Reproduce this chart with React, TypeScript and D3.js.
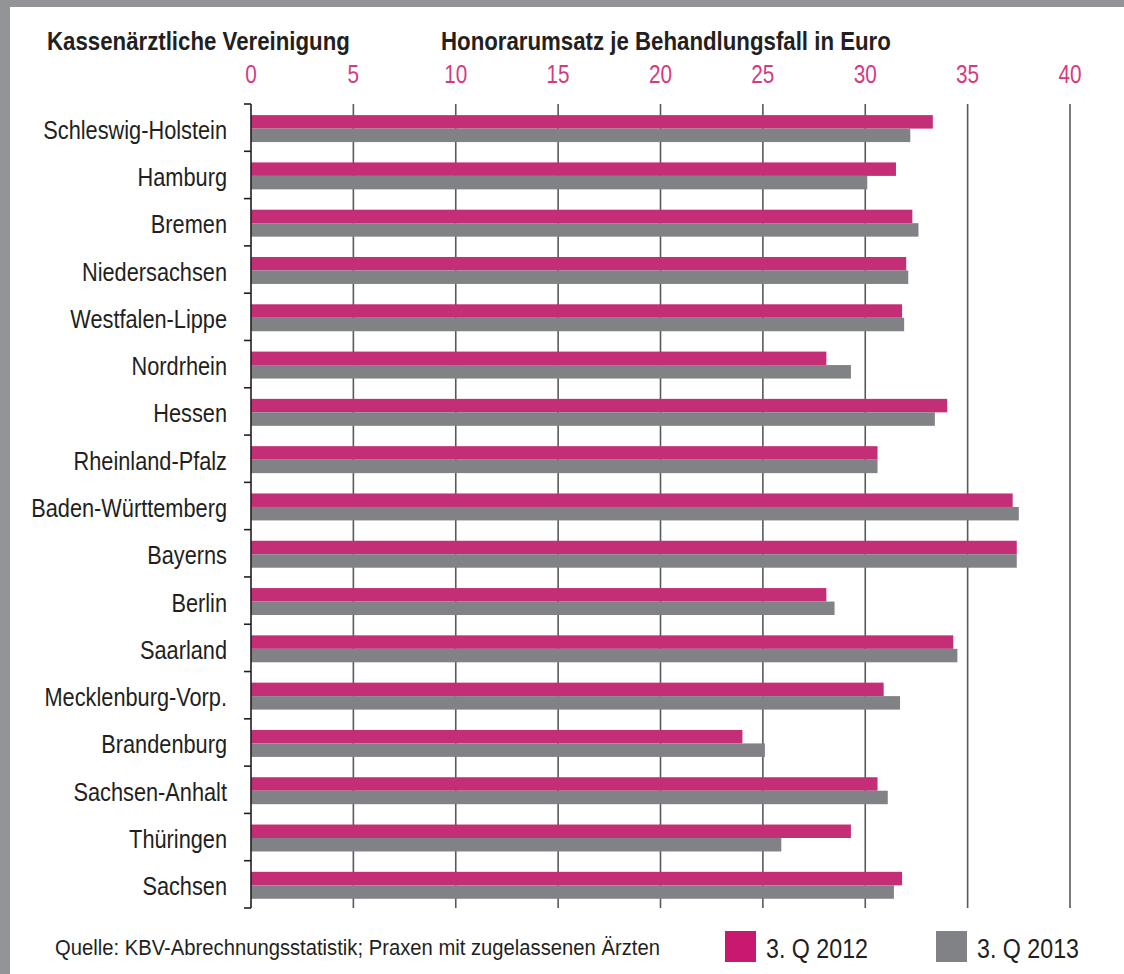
import * as d3 from 'd3'
import React from 'react'

// KV regions, top to bottom
const regions = [
  'Schleswig-Holstein', 'Hamburg', 'Bremen', 'Niedersachsen', 'Westfalen-Lippe',
  'Nordrhein', 'Hessen', 'Rheinland-Pfalz', 'Baden-Württemberg', 'Bayerns',
  'Berlin', 'Saarland', 'Mecklenburg-Vorp.', 'Brandenburg', 'Sachsen-Anhalt',
  'Thüringen', 'Sachsen',
]
// Honorarumsatz je Behandlungsfall in Euro
const q2012 = [33.3, 31.5, 32.3, 32.0, 31.8, 28.1, 34.0, 30.6, 37.2, 37.4, 28.1, 34.3, 30.9, 24.0, 30.6, 29.3, 31.8]
const q2013 = [32.2, 30.1, 32.6, 32.1, 31.9, 29.3, 33.4, 30.6, 37.5, 37.4, 28.5, 34.5, 31.7, 25.1, 31.1, 25.9, 31.4]
const seriesNames = ['3. Q 2012', '3. Q 2013']
const xTicks = [0, 5, 10, 15, 20, 25, 30, 35, 40]

const W = 1124, H = 974
const PINK = '#c42e76'
const GREY = '#818286'
const INK = '#231f20'
const FONT = '"Liberation Sans", Arial, sans-serif'

const margin = { top: 104, left: 251, right: 54, bottom: 66 }

// condensed text: no narrow font installed, so squeeze horizontally
const Narrow = ({ x, y, sx, children, ...rest }: any) => (
  <text transform={`translate(${x},${y}) scale(${sx},1)`} {...rest}>{children}</text>
)

export default function App() {
  const x = d3.scaleLinear().domain([0, 40]).range([margin.left, W - margin.right])
  const y = d3.scaleBand().domain(regions).range([margin.top, H - margin.bottom])
  const bw = y.bandwidth()
  const sub = d3.scaleBand().domain(seriesNames).range([bw * 0.235, bw * 0.805])
  const rows = regions.map((r, i) => ({ r, v: [q2012[i], q2013[i]] }))

  return (
    <svg width={W} height={H} style={{ position: 'absolute', left: 0, top: 0 }} fontFamily={FONT}>
      <rect width={W} height={H} fill="#939498" />
      <rect x={10} y={7} width={W - 10} height={H - 7} fill="#fff" />

      <Narrow x={47} y={50} sx={0.89} fontSize={25} fontWeight="bold" fill={INK}>Kassenärztliche Vereinigung</Narrow>
      <Narrow x={441} y={50} sx={0.89} fontSize={25} fontWeight="bold" fill={INK}>Honorarumsatz je Behandlungsfall in Euro</Narrow>

      {xTicks.map(t => (
        <Narrow key={'l' + t} x={x(t)} y={83} sx={0.83} textAnchor="middle" fontSize={25} fill="#d6397f">{t}</Narrow>
      ))}

      {/* grid */}
      {xTicks.filter(t => t > 0).map(t => (
        <line key={'g' + t} x1={x(t)} x2={x(t)} y1={margin.top} y2={H - margin.bottom}
          stroke="#58595b" strokeWidth={1.6} />
      ))}

      {/* bars */}
      {rows.map(d => (
        <g key={d.r} transform={`translate(0,${y(d.r)})`}>
          {seriesNames.map((s, k) => (
            <rect key={s} x={x(0)} y={sub(s)} width={x(d.v[k]) - x(0)} height={sub.bandwidth()}
              fill={k === 0 ? PINK : GREY} />
          ))}
          <Narrow x={227} y={bw / 2 + 11} sx={0.87} textAnchor="end" fontSize={25} fill={INK}>{d.r}</Narrow>
        </g>
      ))}

      {/* y axis */}
      <line x1={x(0)} x2={x(0)} y1={margin.top} y2={H - margin.bottom} stroke={INK} strokeWidth={1.6} />
      {d3.range(regions.length + 1).map(i => {
        const yy = margin.top + i * bw
        return <line key={'t' + i} x1={x(0) - 7} x2={x(0)} y1={yy} y2={yy} stroke={INK} strokeWidth={1.6} />
      })}

      <Narrow x={55} y={955} sx={0.92} fontSize={22} fill={INK}>Quelle: KBV-Abrechnungsstatistik; Praxen mit zugelassenen Ärzten</Narrow>

      {seriesNames.map((s, k) => (
        <g key={'lg' + s} transform={`translate(${725 + k * 211},931)`}>
          <rect width={31} height={31} fill={k === 0 ? '#c8186f' : GREY} />
          <Narrow x={41} y={27} sx={0.83} fontSize={28} fill={INK}>{s}</Narrow>
        </g>
      ))}
    </svg>
  )
}
